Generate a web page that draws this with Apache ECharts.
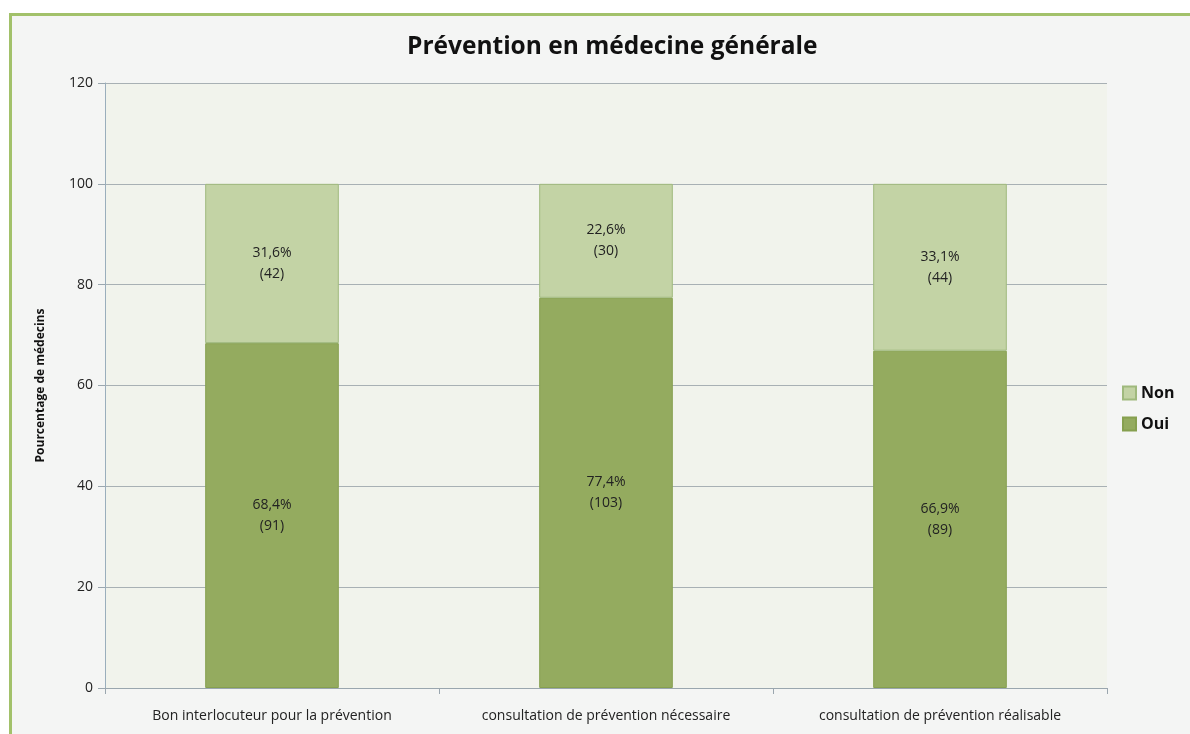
<!DOCTYPE html>
<html>
<head>
<meta charset="utf-8">
<script src="https://cdn.jsdelivr.net/npm/echarts@6/dist/echarts.min.js"></script>
<style>
  html, body { margin: 0; padding: 0; background: #fff; }
  .frame { position: absolute; left: 9px; top: 13px; width: 1190px; height: 730px;
           background: #f4f5f4; border-left: 3px solid #a2c16a; border-top: 3px solid #a2c16a; box-sizing: border-box; }
  #chart { position: absolute; left: 0; top: 0; width: 1190px; height: 734px; }
</style>
</head>
<body>
<div class="frame"></div>
<div id="chart"></div>
<script>
const categories = ['Bon interlocuteur pour la prévention', 'consultation de prévention nécessaire', 'consultation de prévention réalisable']
const ouiPct = [68.4, 77.4, 66.9]
const nonPct = [31.6, 22.6, 33.1]
const ouiCount = [91, 103, 89]
const nonCount = [42, 30, 44]

const fmt = v => v.toFixed(1).replace('.', ',') + '%'

const chart = echarts.init(document.getElementById('chart'))
chart.setOption({
  backgroundColor: 'transparent',
  textStyle: { fontFamily: 'Open Sans' },
  title: {
    text: 'Prévention en médecine générale',
    left: 402, top: 30,
    textStyle: { fontSize: 24.5, fontWeight: 'bold', color: '#111', fontFamily: 'Open Sans' }
  },
  legend: {
    orient: 'vertical', left: 1117, top: 380,
    data: ['Non', 'Oui'],
    icon: 'rect',
    itemWidth: 13, itemHeight: 13, itemGap: 15,
    textStyle: { fontSize: 16, fontWeight: 'bold', color: '#111' }
  },
  grid: { left: 105, right: 83, top: 83, bottom: 46, show: true, backgroundColor: '#f1f3ec', borderWidth: 0 },
  xAxis: {
    type: 'category', data: categories,
    axisLine: { lineStyle: { color: '#9aa6ae' } },
    axisTick: { show: true, length: 6, alignWithLabel: false, lineStyle: { color: '#9aa6ae' } },
    axisLabel: { color: '#222', fontSize: 14, margin: 21 }
  },
  yAxis: {
    type: 'value', min: 0, max: 120, interval: 20,
    name: 'Pourcentage de médecins', nameLocation: 'middle', nameGap: 58, nameRotate: 90,
    nameTextStyle: { fontSize: 12, fontWeight: 'bold', color: '#111' },
    axisLine: { show: true, lineStyle: { color: '#9aaebc' } },
    axisTick: { show: true, length: 7, lineStyle: { color: '#9aa6ae' } },
    axisLabel: { color: '#222', fontSize: 14, margin: 12 },
    splitLine: { lineStyle: { color: '#a8b0b4', width: 1 } }
  },
  series: [
    {
      name: 'Oui', type: 'bar', stack: 'total', barWidth: '40%', data: ouiPct,
      itemStyle: { color: '#94ab5f', borderColor: '#86a04f', borderWidth: 1 },
      label: {
        show: true, position: 'inside', fontSize: 14, color: '#222', lineHeight: 21,
        formatter: p => fmt(p.value) + '\n(' + ouiCount[p.dataIndex] + ')'
      }
    },
    {
      name: 'Non', type: 'bar', stack: 'total', data: nonPct,
      itemStyle: { color: '#c3d3a5', borderColor: '#9fb97d', borderWidth: 1 },
      label: {
        show: true, position: 'inside', fontSize: 14, color: '#222', lineHeight: 21,
        formatter: p => fmt(p.value) + '\n(' + nonCount[p.dataIndex] + ')'
      }
    }
  ]
})
</script>
</body>
</html>
